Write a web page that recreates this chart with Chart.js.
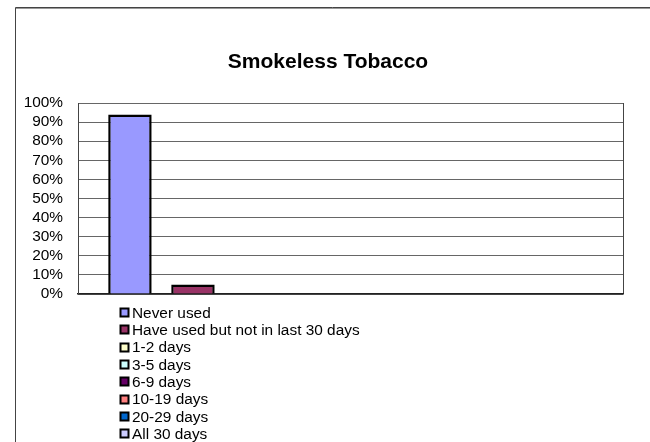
<!DOCTYPE html>
<html>
<head>
<meta charset="utf-8">
<script src="https://cdn.jsdelivr.net/npm/chart.js@4"></script>
<style>
  html, body { margin: 0; padding: 0; background: #fff; }
  #wrap { width: 650px; height: 442px; position: relative; }
</style>
</head>
<body>
<div id="wrap"><canvas id="tobaccoChart" width="650" height="442"></canvas></div>
<script>
// data
const categories = [''];
const seriesNames = ['Never used', 'Have used but not in last 30 days', '1-2 days', '3-5 days',
                     '6-9 days', '10-19 days', '20-29 days', 'All 30 days'];
const seriesValues = [94, 5, 0, 0, 0, 0, 0, 0];
const seriesColors = ['#9999FF', '#993366', '#FFFFCC', '#CCFFFF', '#660066', '#FF8080', '#0066CC', '#CCCCFF'];
const tickLabels = ['0%', '10%', '20%', '30%', '40%', '50%', '60%', '70%', '80%', '90%', '100%'];
const chartTitle = 'Smokeless Tobacco';

const FONT = "Arial, 'Liberation Sans', sans-serif";

// frame line at top/left, like the cropped excel chart border, plus the title
const framePlugin = {
    id: 'frame',
    beforeDraw(chart) {
        const ctx = chart.ctx;
        ctx.save();
        ctx.strokeStyle = '#444';
        ctx.lineWidth = 1;
        ctx.beginPath();
        ctx.moveTo(15.5, 442);
        ctx.lineTo(15.5, 7.5);
        ctx.lineTo(650, 7.5);
        ctx.stroke();
        ctx.strokeStyle = '#999';
        ctx.beginPath();
        ctx.moveTo(16, 8.5);
        ctx.lineTo(650, 8.5);
        ctx.stroke();

        ctx.fillStyle = '#000';
        ctx.font = 'bold 21px ' + FONT;
        ctx.textAlign = 'center';
        ctx.textBaseline = 'alphabetic';
        ctx.fillText(chartTitle, 328, 68);
        ctx.restore();
    }
};

// vertical legend under the plot
const listLegend = {
    id: 'listLegend',
    afterDraw(chart) {
        const ctx = chart.ctx;
        const x0 = 120.5, y0 = 313, step = 17.3, box = 8;
        ctx.save();
        ctx.font = '15.4px ' + FONT;
        ctx.textBaseline = 'middle';
        chart.data.datasets.forEach((ds, i) => {
            const y = Math.round(y0 + i * step) - 4.5;
            ctx.fillStyle = ds.backgroundColor;
            ctx.fillRect(x0, y, box, box);
            ctx.strokeStyle = '#000';
            ctx.lineWidth = 2;
            ctx.strokeRect(x0, y, box, box);
            ctx.fillStyle = '#000';
            ctx.fillText(ds.label, x0 + 11.5, y0 + i * step + 0.5);
        });
        ctx.restore();
    }
};

const datasets = seriesNames.map((name, i) => ({
    label: name,
    data: [seriesValues[i]],
    backgroundColor: seriesColors[i],
    borderColor: '#000',
    borderWidth: 2.5,
    borderSkipped: 'bottom',
    categoryPercentage: 0.925,
    barPercentage: 0.69
}));

const ctx = document.getElementById('tobaccoChart').getContext('2d');
new Chart(ctx, {
    type: 'bar',
    data: { labels: categories, datasets: datasets },
    options: {
        responsive: false,
        animation: false,
        layout: { padding: { left: 0, right: 27, top: 103, bottom: 148 } },
        plugins: {
            legend: { display: false },
            tooltip: { enabled: false },
            title: { display: false }
        },
        scales: {
            x: {
                offset: true,
                ticks: { display: false },
                grid: { display: true, offset: true, color: '#444', lineWidth: 1, drawTicks: false },
                border: { display: true, color: '#222', width: 1.5 },
                afterFit(scale) { scale.height = 0; }
            },
            y: {
                min: 0,
                max: 100,
                ticks: {
                    stepSize: 10,
                    autoSkip: false,
                    padding: 15,
                    color: '#000',
                    font: { family: FONT, size: 15.4 },
                    callback: (v) => tickLabels[Math.round(v / 10)]
                },
                grid: { color: '#666', lineWidth: 1, drawTicks: false },
                border: { display: true, color: '#444', width: 1 },
                afterFit(scale) { scale.width = 78; }
            }
        }
    },
    plugins: [framePlugin, listLegend]
});
</script>
</body>
</html>
